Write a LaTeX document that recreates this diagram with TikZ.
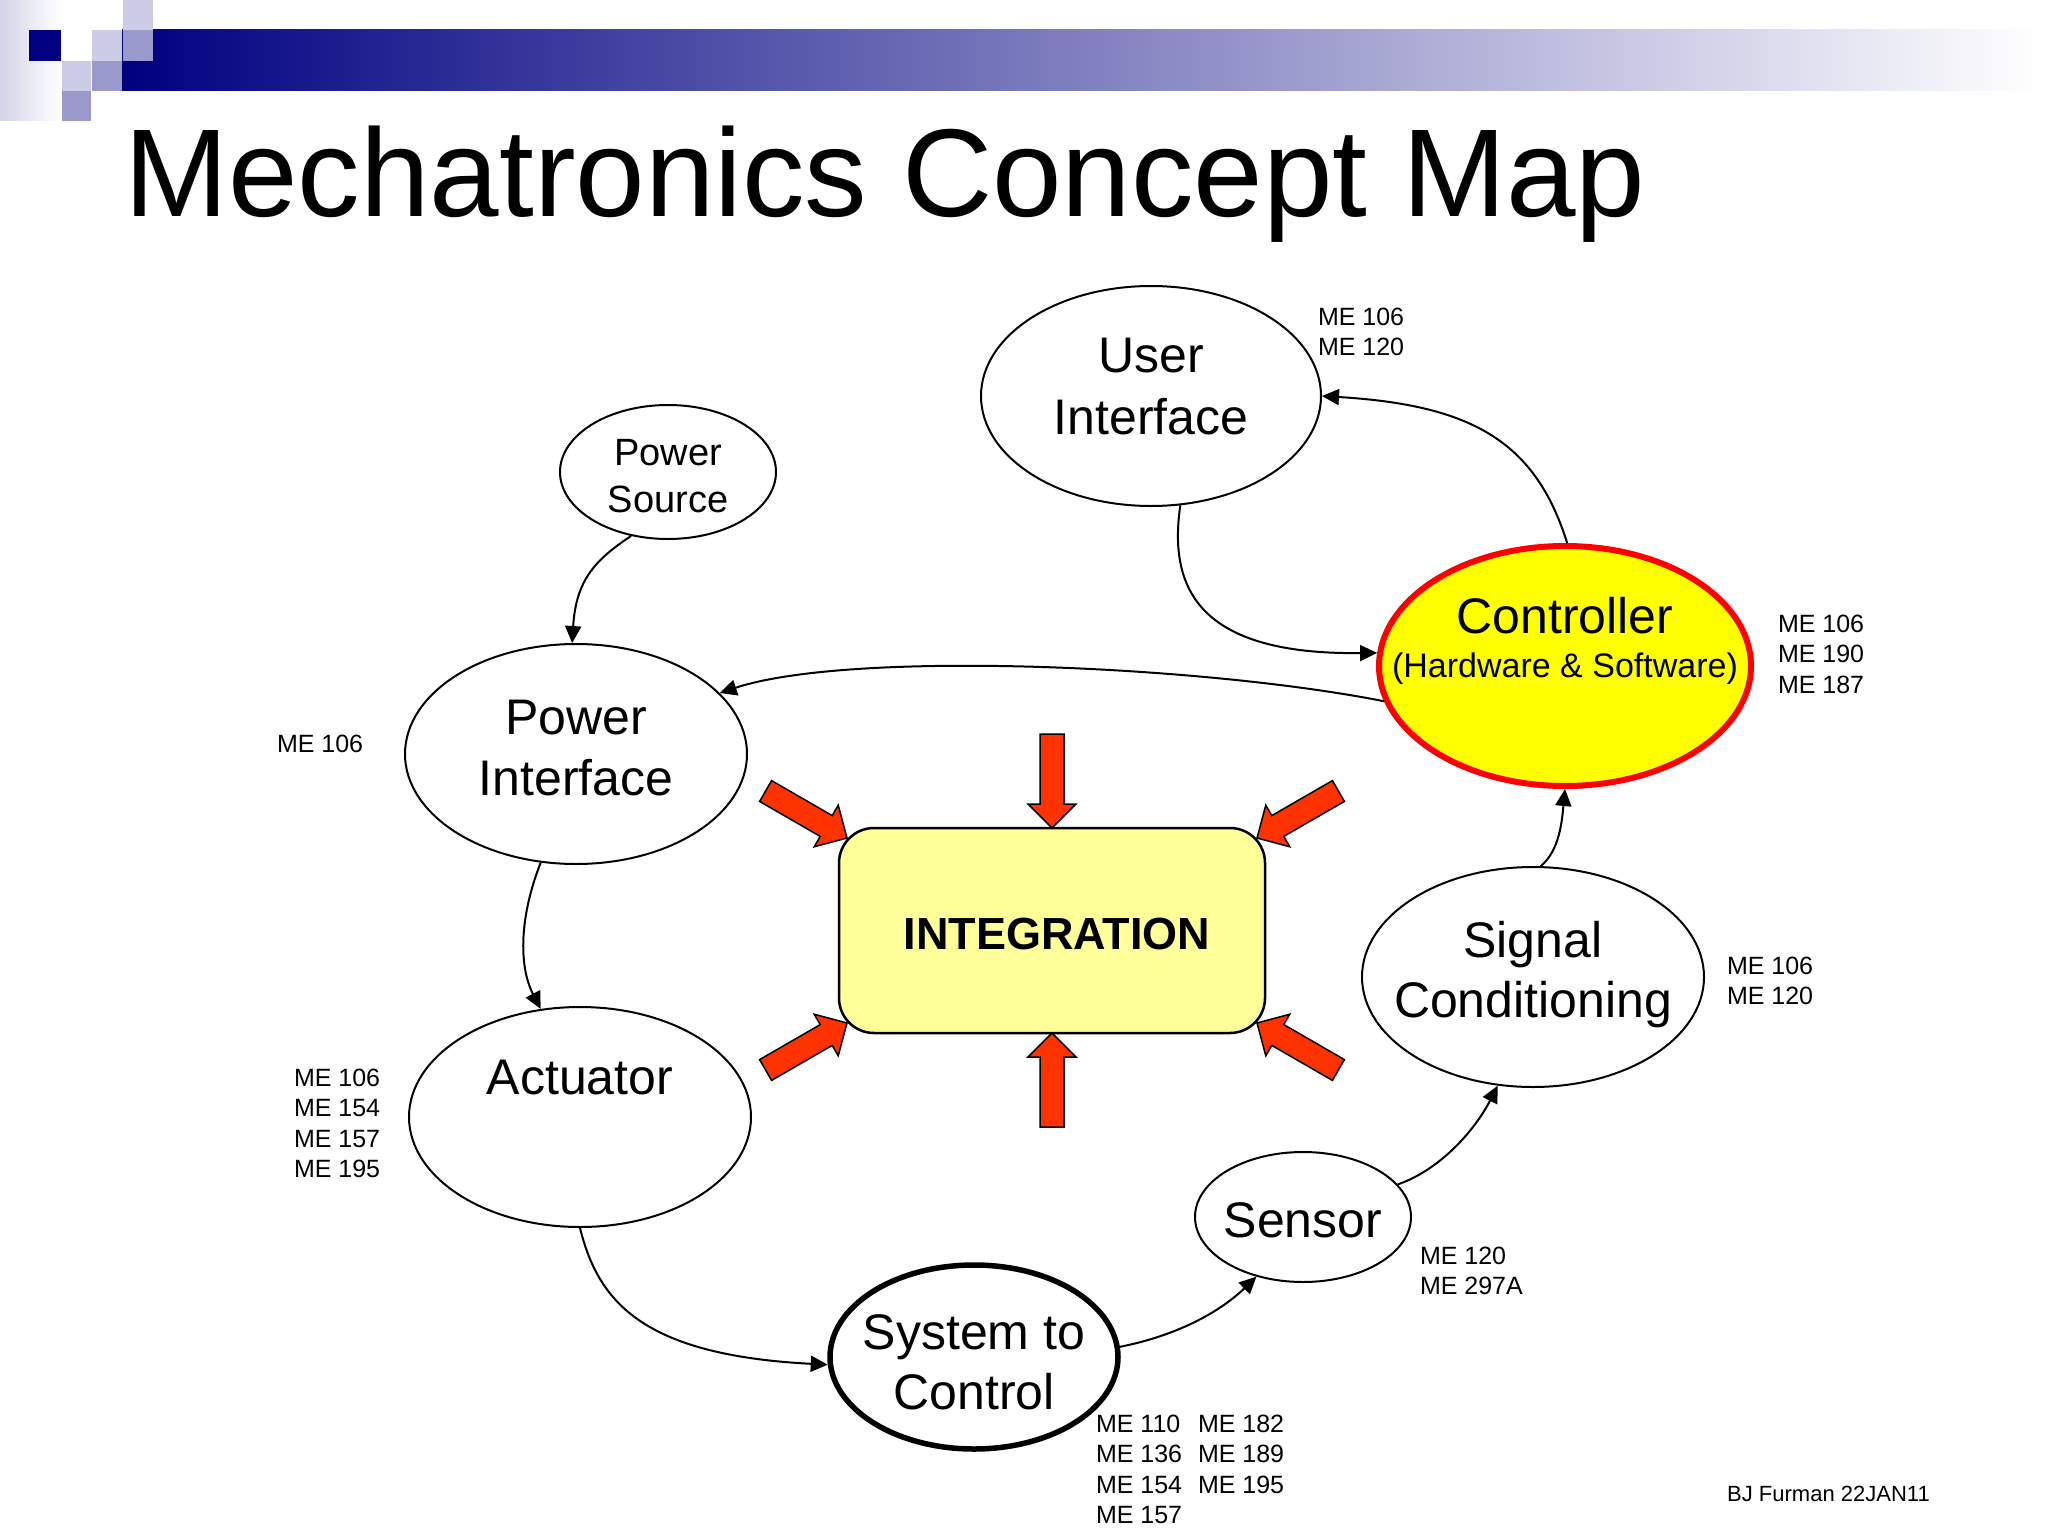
\documentclass[tikz,border=0pt]{standalone}
\usepackage{fontspec}
\setmainfont{Liberation Sans}
\usetikzlibrary{shapes.geometric,arrows.meta}
\definecolor{navy}{HTML}{000080}
\definecolor{medsq}{HTML}{9999CC}
\definecolor{lightsq}{HTML}{CCCCE6}
\definecolor{lavband}{HTML}{D4D4EA}
\definecolor{intfill}{HTML}{FFFF99}
\definecolor{redarr}{HTML}{FF3300}
\definecolor{ctlred}{HTML}{FF0000}
\definecolor{ctlfill}{HTML}{FFFF00}
\newcommand\fsz[2]{\fontsize{#1}{#2}\selectfont}
\tikzset{
  ell/.style={ellipse, draw=black, line width=2pt, fill=white, inner sep=0pt},
  txt/.style={anchor=base, inner sep=0pt, outer sep=0pt, font=\fsz{50}{60}},
  course/.style={anchor=north west, inner sep=0pt, outer sep=0pt, align=left, font=\fsz{25}{30.5}},
  conn/.style={line width=2pt, -{Triangle[length=17pt,width=16pt]}},
  blockarrow/.style={fill=redarr, draw=black, line width=1.5pt, line join=miter},
  intbox/.style={draw=black, line width=2.5pt, fill=intfill, rounded corners=35pt, inner sep=0pt},
}
\newcommand\redarrow[3]{%
  \begin{scope}[shift={(#1,#2)}, rotate=#3]
    \draw[blockarrow] (0,0) -- (-24,24) -- (-24,12) -- (-94,12) -- (-94,-12) -- (-24,-12) -- (-24,-24) -- cycle;
  \end{scope}}
\begin{document}
\begin{tikzpicture}[x=1pt,y=-1pt]
\useasboundingbox (0,0) rectangle (2048,1536);
\fill[white] (0,0) rectangle (2048,1536);
% header decoration
\shade[left color=lavband, right color=white] (0,0) rectangle (62,121);
\shade[left color=navy, right color=white] (122,30) rectangle (2040,91);
\fill[lightsq] (123,0) rectangle (153,30);
\fill[navy] (29,30) rectangle (61,61);
\fill[lightsq] (92,30) rectangle (122,61);
\fill[medsq] (123,30) rectangle (153,61);
\fill[lightsq] (62,61) rectangle (91,91);
\fill[medsq] (92,61) rectangle (122,91);
\fill[medsq] (62,91) rectangle (91,121);
% title
\node[anchor=base west, inner sep=0pt, font=\fsz{125}{140}] (title) at (124,216) {Mechatronics Concept Map};

% ellipses
\node[ell, minimum width=340pt, minimum height=220pt] (ui) at (1151,396) {};
\node[ell, minimum width=216pt, minimum height=134pt] (ps) at (668,472) {};
\node[ell, minimum width=342pt, minimum height=220pt] (pi) at (576,754) {};
\node[ellipse, draw=ctlred, line width=6pt, fill=ctlfill, inner sep=0pt, minimum width=372pt, minimum height=240pt] (ctl) at (1565,666) {};
\node[ell, minimum width=342pt, minimum height=220pt] (sig) at (1533,977) {};
\node[ell, minimum width=342pt, minimum height=220pt] (act) at (580,1117) {};
\node[ell, minimum width=216pt, minimum height=130pt] (sen) at (1303,1217) {};
\node[ell, line width=5.5pt, minimum width=288pt, minimum height=184pt] (sys) at (974,1357) {};

% texts in ellipses
\node[txt] (uit1) at (1151,372) {User};
\node[txt] (uit2) at (1151,434) {Interface};
\node[txt, font=\fsz{38}{46}] (pst1) at (668,465) {Power};
\node[txt, font=\fsz{38}{46}] (pst2) at (668,512) {Source};
\node[txt] (pit1) at (576,734) {Power};
\node[txt] (pit2) at (576,795) {Interface};
\node[txt] (ctlt1) at (1565,633) {Controller};
\node[txt, font=\fsz{34}{40}] (ctlt2) at (1565,677) {(Hardware \& Software)};
\node[txt] (sigt1) at (1533,957) {Signal};
\node[txt] (sigt2) at (1533,1017) {Conditioning};
\node[txt] (actt) at (580,1094) {Actuator};
\node[txt] (sent) at (1303,1237) {Sensor};
\node[txt] (syst1) at (974,1349) {System to};
\node[txt] (syst2) at (974,1409) {Control};

% integration box
\node[intbox, minimum width=426pt, minimum height=205pt] (int) at (1052,930.5) {};
\node[txt, font=\bfseries\fsz{45}{50}] (intt) at (1057,949) {INTEGRATION};

% red block arrows
\redarrow{1052}{828}{-90}
\redarrow{1052}{1033}{90}
\redarrow{847}{838}{-30}
\redarrow{847}{1023}{30}
\redarrow{1257}{838}{210}
\redarrow{1257}{1023}{150}

% course labels
\node[course] (meui) at (1318,308) {ME 106\\ME 120};
\node[course] (mectl) at (1778,615) {ME 106\\ME 190\\ME 187};
\node[course] (mepi) at (277,735) {ME 106};
\node[course] (mesig) at (1727,957) {ME 106\\ME 120};
\node[course] (meact) at (294,1069) {ME 106\\ME 154\\ME 157\\ME 195};
\node[course] (mesen) at (1420,1247) {ME 120\\ME 297A};
\node[course] (mesys1) at (1096,1415) {ME 110\\ME 136\\ME 154\\ME 157};
\node[course] (mesys2) at (1198,1415) {ME 182\\ME 189\\ME 195};
\node[anchor=base west, inner sep=0pt, font=\fsz{22}{26}] (author) at (1727,1501) {BJ Furman 22JAN11};

% connectors
\draw[conn] (ps.240) .. controls (595,560) and (576,580) .. (pi.92);
\draw[conn] (pi.252) .. controls (520,915) and (518,965) .. (act.110);
\draw[conn] (act.270) .. controls (598,1300) and (640,1355) .. (sys.183);
\draw[conn] (sys.4) .. controls (1180,1335) and (1222,1310) .. (sen.232);
\draw[conn] (sen.19) .. controls (1440,1170) and (1475,1130) .. (sig.252);
\draw[conn] (sig.86) .. controls (1560,850) and (1562,820) .. (ctl.270);
\draw[conn] (ctl.89) .. controls (1535,440) and (1470,405) .. (ui.0);
\draw[conn] (ui.285) .. controls (1168,590) and (1200,655) .. (ctl.176);
\draw[conn] (ctl.191) .. controls (1200,665) and (850,650) .. (pi.23);
\end{tikzpicture}
\end{document}
